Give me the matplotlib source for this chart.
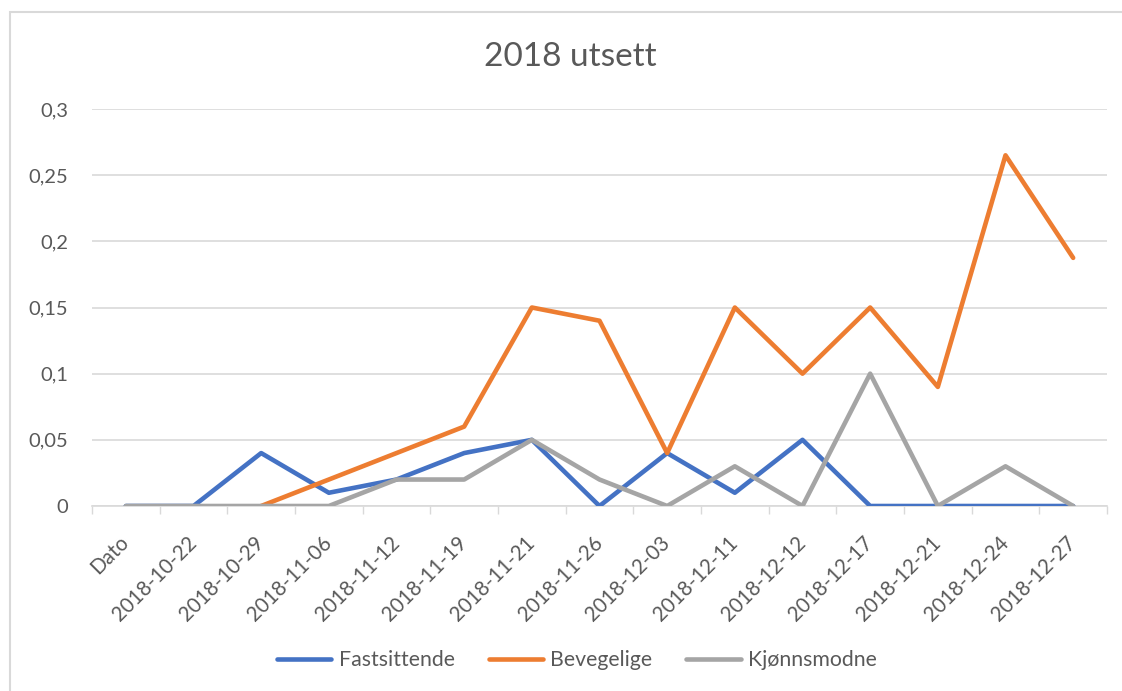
import numpy as np
import matplotlib
matplotlib.use("Agg")
import matplotlib.pyplot as plt
from matplotlib.patches import Rectangle

categories = ["Dato", "2018-10-22", "2018-10-29", "2018-11-06", "2018-11-12",
              "2018-11-19", "2018-11-21", "2018-11-26", "2018-12-03", "2018-12-11",
              "2018-12-12", "2018-12-17", "2018-12-21", "2018-12-24", "2018-12-27"]
fastsittende = [0, 0, 0.04, 0.01, 0.02, 0.04, 0.05, 0, 0.04, 0.01, 0.05, 0, 0, 0, 0]
bevegelige = [np.nan, np.nan, 0, 0.02, 0.04, 0.06, 0.15, 0.14, 0.04, 0.15, 0.10, 0.15, 0.09, 0.265, 0.1875]
kjonnsmodne = [0, 0, 0, 0, 0.02, 0.02, 0.05, 0.02, 0, 0.03, 0, 0.10, 0, 0.03, 0]
yticks = [0, 0.05, 0.1, 0.15, 0.2, 0.25, 0.3]
ytick_labels = ["0", "0,05", "0,1", "0,15", "0,2", "0,25", "0,3"]

plt.rcParams['font.family'] = ['Lato', 'DejaVu Sans']
TXT = "#595959"
GRID = "#D9D9D9"

W, H = 1122, 691
fig = plt.figure(figsize=(W / 100, H / 100), dpi=100)
ax = fig.add_axes([92 / W, 1 - 506 / H, (1107 - 92) / W, (506 - 109) / H])

x = np.arange(len(categories))
series = [("Fastsittende", fastsittende, "#4472C4"),
          ("Bevegelige", bevegelige, "#ED7D31"),
          ("Kjønnsmodne", kjonnsmodne, "#A5A5A5")]
for name, vals, col in series:
    ax.plot(x, vals, color=col, lw=3.3, label=name,
            solid_joinstyle='round', solid_capstyle='round', zorder=3)

ax.set_xlim(-0.5, len(categories) - 0.5)
ax.set_ylim(0, 0.3)
ax.set_yticks(yticks)
ax.set_yticklabels(ytick_labels)
ax.set_xticks(x)
ax.set_xticklabels(categories, rotation=45, ha='right', va='center',
                   rotation_mode='anchor')
ax.set_xticks(np.arange(-0.5, len(categories)), minor=True)
ax.tick_params(axis='x', which='major', length=0, pad=24, labelsize=14.8, colors=TXT)
ax.tick_params(axis='x', which='minor', length=6, color=GRID, width=1)
ax.tick_params(axis='y', length=0, pad=17, labelsize=14.5, colors=TXT)

ax.grid(axis='y', color=GRID, lw=1.2, zorder=0)
for s in ['top', 'right', 'left']:
    ax.spines[s].set_visible(False)
ax.spines['bottom'].set_color(GRID)
ax.spines['bottom'].set_linewidth(1.2)

fig.text(570 / W, 1 - 57 / H, "2018 utsett", ha='center', va='center',
         fontsize=24, color=TXT)

leg = fig.legend(loc='center', bbox_to_anchor=(577 / W, 1 - 660 / H), ncol=3,
                 frameon=False, fontsize=15.3, handlelength=2.55,
                 handletextpad=0.35, columnspacing=1.6)
for t in leg.get_texts():
    t.set_color(TXT)

fig.patches.append(Rectangle((10 / W, -0.05), 1.2, 1 - 12 / H + 0.05,
                             transform=fig.transFigure, fill=False,
                             edgecolor=GRID, lw=1.5))

fig.savefig("out.png", dpi=100, facecolor='white')
